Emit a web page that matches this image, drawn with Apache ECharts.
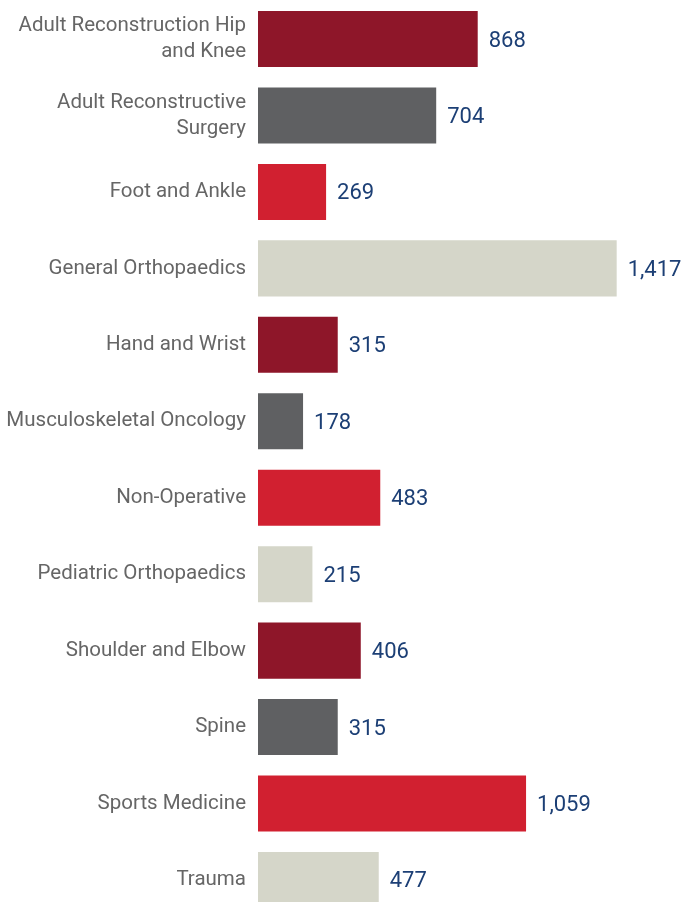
<!DOCTYPE html>
<html><head><meta charset="utf-8">
<script src="https://cdn.jsdelivr.net/npm/echarts@6/dist/echarts.min.js"></script>
<style>html,body{margin:0;padding:0;background:#fff}#c{width:684px;height:902px}</style>
</head><body><div id="c"></div>
<script>
const categories = ["Adult Reconstruction Hip\nand Knee","Adult Reconstructive\nSurgery","Foot and Ankle","General Orthopaedics","Hand and Wrist","Musculoskeletal Oncology","Non-Operative","Pediatric Orthopaedics","Shoulder and Elbow","Spine","Sports Medicine","Trauma"];
const values = [868,704,269,1417,315,178,483,215,406,315,1059,477];
const palette = ["#8e1629","#5f6062","#d12030","#d5d6c9"];
const chart = echarts.init(document.getElementById('c'));
chart.setOption({
  animation:false,
  grid:{left:258,top:0.8,width:405,height:917.4,containLabel:false,outerBoundsMode:'none'},
  xAxis:{type:'value',min:0,max:1600,show:false},
  yAxis:{type:'category',data:categories,inverse:true,
    axisLine:{show:false},axisTick:{show:false},
    axisLabel:{color:'#666666',fontFamily:'Roboto',fontSize:20.5,margin:12,lineHeight:26,align:'right'}},
  series:[{type:'bar',barCategoryGap:'26.7%',
    data:values.map((v,i)=>({value:v,itemStyle:{color:palette[i%4]}})),
    label:{show:true,position:'right',distance:11,offset:[0,2],color:'#1c3f75',fontFamily:'Roboto',fontSize:22,
      formatter:p=>p.value.toLocaleString('en-US')}}]
});
</script></body></html>
